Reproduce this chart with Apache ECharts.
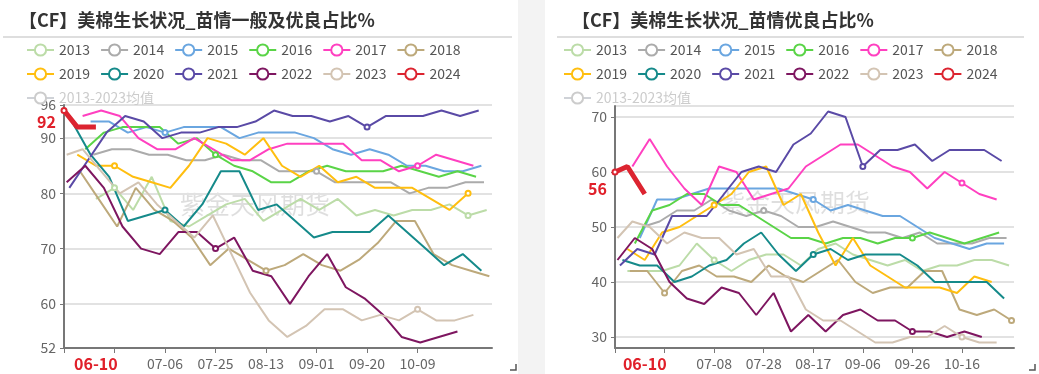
<!DOCTYPE html>
<html><head><meta charset="utf-8">
<script src="https://cdn.jsdelivr.net/npm/echarts@6/dist/echarts.min.js"></script>
<style>html,body{margin:0;padding:0;background:#fff}#c{width:1039px;height:374px}</style>
</head><body><div id="c"></div>
<script>
// ---- categories: daily dates (MM-DD) ----
const firstDay = [5, 29];      // month, day
const dayCount = 162;
const days = [];
for (let i = 0; i < dayCount; i++) {
  const d = new Date(2024, firstDay[0] - 1, firstDay[1] + i);
  days.push(String(d.getMonth() + 1).padStart(2, '0') + '-' + String(d.getDate()).padStart(2, '0'));
}
const years = ['2013','2014','2015','2016','2017','2018','2019','2020','2021','2022','2023','2024'];
const avgName = '2013-2023均值';
const colors = ['#bcdca8','#ababab','#6aa6e0','#5ad447','#ff40c0','#bda97b','#ffbe0f','#158a8a','#5a4aa6','#7e1660','#d3c4b3','#dc2430'];

// ---- left panel: 苗情一般及优良占比 (first report date, weekly values) ----
const startL = ['06-10','06-09','06-08','06-06','06-05','06-04','06-03','06-01','05-31','05-30','06-05'];
const L2013 = [79,81,77,83,75,74,76,78,79,75,77,79,77,79,76,77,76,77,77,78,76,77];
const L2014 = [87,88,88,87,87,86,86,87,86,86,84,84,84,82,82,82,82,80,81,81,82,82];
const L2015 = [93,93,91,92,91,92,92,92,90,91,91,91,90,88,87,88,87,85,85,84,84,85];
const L2016 = [88,91,92,92,92,89,90,87,85,84,82,82,84,85,84,84,84,85,84,83,84,83];
const L2017 = [94,95,94,90,88,88,90,88,86,86,88,89,89,89,89,86,86,84,85,87,86,85];
const L2018 = [84,79,74,81,77,75,72,67,70,68,66,67,69,67,66,68,71,75,75,69,67,66,65];
const L2019 = [87,85,85,83,82,81,85,90,89,87,90,85,83,85,82,83,81,81,81,79,77,80];
const L2020 = [93,87,83,75,76,77,74,78,84,84,77,78,75,72,73,73,73,76,73,70,67,69,66];
const L2021 = [81,86,91,94,93,90,91,91,92,92,93,95,94,94,93,94,92,94,94,94,95,94,95];
const L2022 = [82,85,81,74,70,69,73,73,70,72,66,65,60,65,69,63,61,58,54,53,54,55];
const L2023 = [88,84,80,82,78,75,72,76,69,62,57,54,56,59,59,57,58,57,59,57,57,58];
const L2023first = ['05-30', 87];
const L2024dates = ['05-29','06-03','06-10'];
const L2024 = [95,92,92];
const Lavg = [88,88,87,86,85,84,84,84,83,82,81,80,80,80,79,79,78,78,78,78,78,78];

// ---- right panel: 苗情优良占比 ----
const startR = ['06-03','06-09','06-08','06-06','06-05','06-04','06-03','06-01','05-31','05-30','06-05'];
const R2013 = [42,42,42,43,47,44,42,44,45,45,43,46,47,45,44,43,44,42,43,43,44,44,43];
const R2014 = [50,51,53,53,55,53,52,53,52,50,50,51,50,49,49,48,49,47,47,47,48,48];
const R2015 = [48,55,55,56,57,57,57,57,57,56,55,53,54,53,52,52,50,48,47,46,47,47];
const R2016 = [47,53,54,56,56,54,54,52,50,48,48,47,48,48,47,48,48,49,48,47,48,49];
const R2017 = [61,66,61,57,54,61,60,55,56,57,61,63,65,65,63,61,60,57,60,58,56,55];
const R2018 = [42,42,38,42,43,41,41,40,43,41,40,42,44,40,38,39,39,42,42,35,34,35,33];
const R2019 = [46,44,49,50,52,54,56,60,61,54,56,49,43,48,43,41,39,39,39,38,41,40];
const R2020 = [44,43,43,40,41,43,44,47,49,45,42,45,46,44,45,45,45,43,40,40,40,40,37];
const R2021 = [43,46,45,52,52,52,56,60,61,60,65,67,71,70,61,64,64,65,62,64,64,64,62];
const R2022 = [44,48,46,40,37,36,39,38,34,38,31,34,31,34,35,33,33,31,31,30,31,30];
const R2023 = [51,50,47,49,48,48,45,46,41,41,35,33,33,31,29,29,30,30,32,30,29,29];
const R2023first = ['05-30', 48];
const R2024dates = ['05-29','06-03','06-10'];
const R2024 = [60,61,56];
const Ravg = [50,51,51,52,53,53,53,53,52,51,50,50,49,49,48,47,47,46,46,46,46,45];

const curDate = '06-10';
const curL = 92, curR = 56;

// ---- helpers ----
function weekly(start, vals) {
  const s = days.indexOf(start);
  return vals.map((v, i) => [days[s + 7 * i], v]);
}
function pairs(ds, vals) { return vals.map((v, i) => [ds[i], v]); }

const Lvals = [L2013,L2014,L2015,L2016,L2017,L2018,L2019,L2020,L2021,L2022,L2023];
const Rvals = [R2013,R2014,R2015,R2016,R2017,R2018,R2019,R2020,R2021,R2022,R2023];

function makeSeries(idx, vals, starts, first, d24, v24, avg) {
  const out = [];
  years.forEach((y, k) => {
    let data;
    if (k === 11) data = pairs(d24, v24);
    else {
      data = weekly(starts[k], vals[k]);
      if (k === 10) data = [first].concat(data);
    }
    out.push({
      name: y, type: 'line', xAxisIndex: idx, yAxisIndex: idx, data: data,
      symbol: 'emptyCircle', symbolSize: 5, showAllSymbol: 'auto',
      color: colors[k],
      lineStyle: { width: k === 11 ? 5 : 2, color: colors[k] },
      itemStyle: { color: colors[k] },
      z: k === 11 ? 10 : 2, animation: false
    });
  });
  out.push({
    name: avgName, type: 'line', xAxisIndex: idx, yAxisIndex: idx,
    data: weekly('06-05', avg), symbol: 'emptyCircle', symbolSize: 5,
    color: '#c8c8c8', lineStyle: { width: 2, type: 'dashed' }, animation: false
  });
  return out;
}

const curIdx = days.indexOf(curDate);
function xAxisCfg(gi, step) {
  const hide = [0, step];
  return {
    type: 'category', gridIndex: gi, data: days, boundaryGap: false,
    axisLine: { lineStyle: { color: '#777', width: 2 } },
    axisTick: { show: true, length: 5, lineStyle: { color: '#777' },
      interval: (i) => i % step === 0 && i < dayCount - 12 },
    axisLabel: { color: '#666', fontSize: 14, margin: 9, interval: step - 1,
      formatter: (v, i) => (hide.indexOf(i) >= 0 || i > dayCount - 12) ? '' : v },
    splitLine: { show: false },
    axisPointer: { show: true, status: 'show', value: curIdx, type: 'line', triggerTooltip: false,
      lineStyle: { opacity: 0 },
      label: { show: true, backgroundColor: '#fff', color: '#e0202a', fontWeight: 'bold', fontSize: 16,
        padding: [2, 4], margin: 6 } }
  };
}
function yAxisCfg(gi, mn, mx, cur) {
  return {
    type: 'value', gridIndex: gi, min: mn, max: mx,
    axisLine: { show: true, lineStyle: { color: '#777', width: 2 } },
    axisTick: { show: true, length: 4, lineStyle: { color: '#777' } },
    axisLabel: { color: '#666', fontSize: 14, margin: 8 },
    splitLine: { lineStyle: { color: '#e2e2e2', width: 2 } },
    axisPointer: { show: true, status: 'show', value: cur, type: 'line', triggerTooltip: false,
      lineStyle: { opacity: 0 },
      label: { show: true, backgroundColor: 'transparent', color: '#e0202a', fontWeight: 'bold', fontSize: 16,
        padding: [0, 4, 10, 4], margin: 4, formatter: (p) => String(Math.round(p.value)) } }
  };
}
const legendNames = years.concat([avgName]);
function legendCfg(left) {
  return {
    data: legendNames, left: left, top: 43, width: 470, padding: 0,
    itemWidth: 27, itemHeight: 14, itemGap: 10,
    textStyle: { color: '#555', fontSize: 14, width: 36, fontFamily: 'Noto Sans CJK SC' },
    inactiveColor: '#ccc',
    selected: { [avgName]: false }
  };
}

const chart = echarts.init(document.getElementById('c'), null, { renderer: 'canvas' });
chart.setOption({
  animation: false,
  textStyle: { fontFamily: 'Noto Sans CJK SC' },
  title: [
    { text: '【CF】美棉生长状况_苗情一般及优良占比%', left: 14, top: 6,
      textStyle: { fontSize: 18, fontWeight: 'bold', color: '#333', fontFamily: 'Noto Sans CJK SC' } },
    { text: '【CF】美棉生长状况_苗情优良占比%', left: 567, top: 6,
      textStyle: { fontSize: 18, fontWeight: 'bold', color: '#333', fontFamily: 'Noto Sans CJK SC' } }
  ],
  legend: [legendCfg(26), legendCfg(563)],
  grid: [
    { left: 64, top: 105, width: 428, height: 243 },
    { left: 615, top: 106, width: 399, height: 242 }
  ],
  xAxis: [xAxisCfg(0, 19), xAxisCfg(1, 20)],
  yAxis: [yAxisCfg(0, 52, 96, curL), yAxisCfg(1, 28, 72, curR)],
  graphic: [
    { type: 'rect', shape: { x: 518, y: 0, width: 27, height: 374 }, style: { fill: '#f3f3f3' }, z: -10 },
    { type: 'line', shape: { x1: 3, y1: 37, x2: 512, y2: 37 }, style: { stroke: '#bdbdbd', lineWidth: 1 } },
    { type: 'line', shape: { x1: 557, y1: 37, x2: 1024, y2: 37 }, style: { stroke: '#bdbdbd', lineWidth: 1 } },
    { type: 'text', left: 180, top: 192, style: { text: '紫金天风期货', fontSize: 25, fill: 'rgba(0,0,0,0.13)', fontFamily: 'Noto Sans CJK SC' }, z: 0 },
    { type: 'text', left: 720, top: 190, style: { text: '紫金天风期货', fontSize: 25, fill: 'rgba(0,0,0,0.13)', fontFamily: 'Noto Sans CJK SC' }, z: 0 },
    { type: 'polyline', shape: { points: [[510, 370], [516, 370], [516, 364]] }, style: { stroke: '#555', lineWidth: 1.5, fill: null } },
    { type: 'polyline', shape: { points: [[1029, 370], [1035, 370], [1035, 364]] }, style: { stroke: '#555', lineWidth: 1.5, fill: null } }
  ],
  series: makeSeries(0, Lvals, startL, L2023first, L2024dates, L2024, Lavg)
    .concat(makeSeries(1, Rvals, startR, R2023first, R2024dates, R2024, Ravg))
});
</script>
</body></html>
